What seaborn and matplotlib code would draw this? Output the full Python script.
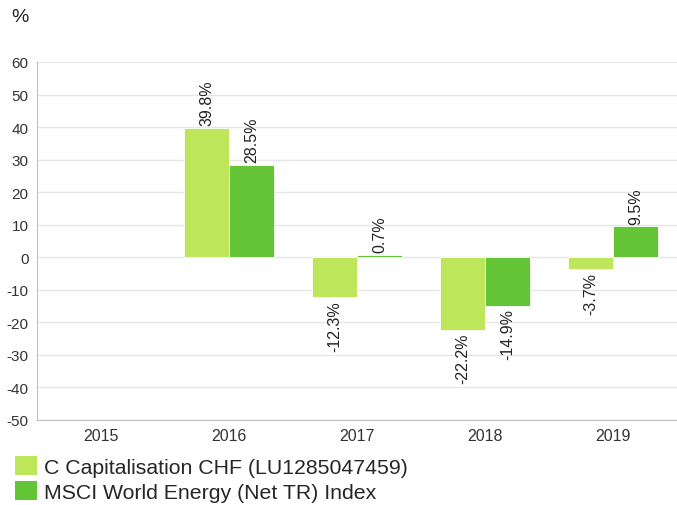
import pandas as pd
import seaborn as sns
import matplotlib.pyplot as plt
from matplotlib.patches import Patch

years = ["2015", "2016", "2017", "2018", "2019"]
fund = [None, 39.8, -12.3, -22.2, -3.7]
index = [None, 28.5, 0.7, -14.9, 9.5]
series_names = ["C Capitalisation CHF (LU1285047459)",
                "MSCI World Energy (Net TR) Index"]
colors = ["#bde65a", "#63c436"]

df = pd.DataFrame({
    "year": years * 2,
    "value": fund + index,
    "series": [series_names[0]] * 5 + [series_names[1]] * 5,
})

sns.set_style("white")
plt.rcParams["font.family"] = ["Liberation Sans", "DejaVu Sans"]
plt.rcParams["axes.unicode_minus"] = False

fig = plt.figure(figsize=(6.77, 5.06), dpi=100)
ax = fig.add_axes([37 / 677, 1 - 421 / 506, 1 - 37 / 677, (421 - 63) / 506])

sns.barplot(data=df, x="year", y="value", hue="series", order=years,
            hue_order=series_names, palette=colors, saturation=1, width=0.7,
            edgecolor="white", linewidth=0.6, ax=ax, legend=False)

for cont in ax.containers:
    for bar in cont:
        h = bar.get_height()
        if pd.isna(h):
            continue
        x = bar.get_x() + bar.get_width() / 2
        if h >= 0:
            ax.text(x, h + 0.8, f"{h:.1f}%", rotation=90, ha="center",
                    va="bottom", fontsize=11.5, color="#222222")
        else:
            ax.text(x, h - 0.8, f"{h:.1f}%", rotation=90, ha="center",
                    va="top", fontsize=11.5, color="#222222")

ax.set_ylim(-50, 60)
ax.set_yticks(range(-50, 61, 10))
ax.set_xlim(-0.5, 4.5)
ax.yaxis.grid(True, color="#e6e6e6", linewidth=1)
ax.set_axisbelow(True)
ax.set_xlabel("")
ax.set_ylabel("")
for s in ["top", "right"]:
    ax.spines[s].set_visible(False)
ax.spines["left"].set_color("#c0c0c0")
ax.spines["bottom"].set_color("#c0c0c0")
ax.tick_params(axis="both", length=0, labelcolor="#333333")
ax.tick_params(axis="y", pad=6, labelsize=11)
ax.tick_params(axis="x", pad=6, labelsize=11.5)

fig.text(11 / 677, 1 - 18 / 506, "%", fontsize=14, va="center", color="#222222")

handles = [Patch(facecolor=c, edgecolor="none") for c in colors]
fig.legend(handles, series_names, loc="lower left", bbox_to_anchor=(0.01, -0.01),
           frameon=False, fontsize=15.3, handlelength=1.03, handleheight=1.03,
           handletextpad=0.3, labelspacing=0.18, borderaxespad=0)

plt.savefig("out.png", dpi=100)
